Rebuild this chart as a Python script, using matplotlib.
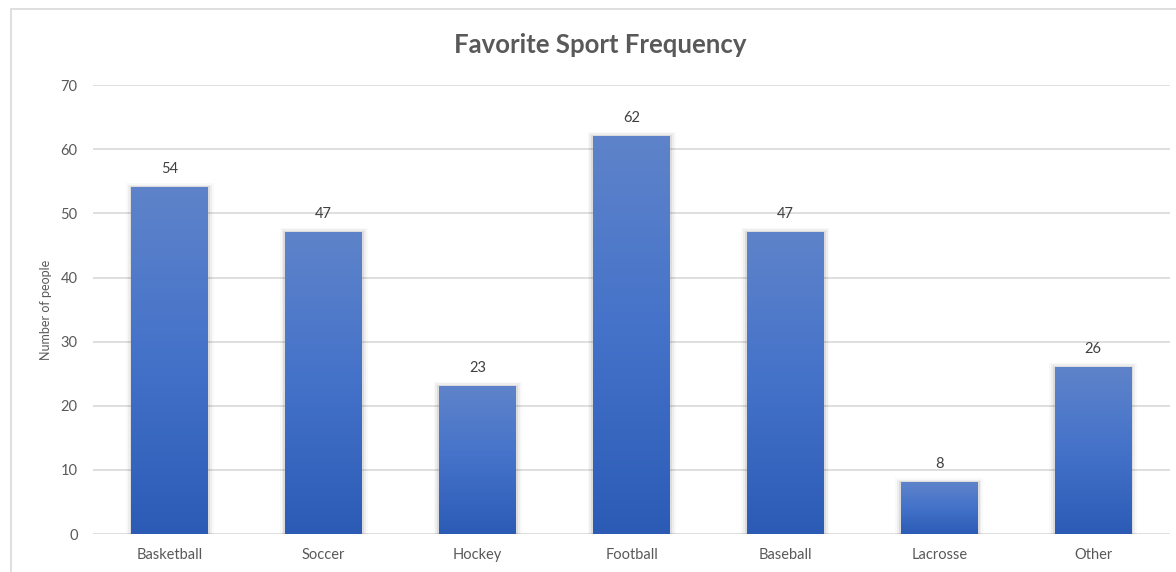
import numpy as np
import matplotlib.pyplot as plt
from matplotlib.colors import LinearSegmentedColormap
from matplotlib.patches import Rectangle

sports = ['Basketball', 'Soccer', 'Hockey', 'Football', 'Baseball', 'Lacrosse', 'Other']
counts = [54, 47, 23, 62, 47, 8, 26]
yticks = [0, 10, 20, 30, 40, 50, 60, 70]

plt.rcParams['font.family'] = ['Lato', 'DejaVu Sans']

fig = plt.figure(figsize=(11.76, 5.72), dpi=100)
ax = fig.add_axes([0.079, 0.0664, 0.916, 0.7846])

# outer chart frame (cut off at right and bottom like the screenshot)
fig.patches.append(Rectangle((11 / 1176, -0.2), 1.2, 1.2 - 9 / 572,
                             transform=fig.transFigure, fill=False,
                             edgecolor='#D9D9D9', lw=1.2))

grad = LinearSegmentedColormap.from_list('bar', ['#2C5BB6', '#4472C9', '#5E83CA'])
x = np.arange(len(sports))
width = 0.5
ramp = np.linspace(0, 1, 256).reshape(-1, 1)

for xi, v in zip(x, counts):
    # soft shadow
    for k, a in enumerate([0.07, 0.045, 0.025]):
        d = 0.012 * (k + 1)
        ax.add_patch(Rectangle((xi - width / 2 - d, 0), width + 2 * d, v + 0.25 * (k + 1),
                               facecolor='black', alpha=a, lw=0, zorder=2))
    ax.imshow(ramp, cmap=grad, aspect='auto', origin='lower',
              extent=[xi - width / 2, xi + width / 2, 0, v], zorder=3)
    ax.annotate(str(v), (xi, v), xytext=(0, 8.5), textcoords='offset points',
                ha='center', va='bottom', fontsize=10.5, color='#404040')

ax.set_xlim(-0.5, len(sports) - 0.5)
ax.set_ylim(0, 70)
ax.set_xticks(x)
ax.set_xticklabels(sports, fontsize=10.5, color='#595959')
ax.set_yticks(yticks)
ax.set_yticklabels([str(t) for t in yticks], fontsize=10.5, color='#595959')
ax.tick_params(length=0, pad=10)
ax.tick_params(axis='y', pad=11)
ax.grid(axis='y', color='#D9D9D9', lw=1.2, zorder=0)
ax.set_axisbelow(True)
for s in ax.spines.values():
    s.set_visible(False)

ax.set_ylabel('Number of people', fontsize=9, color='#595959', labelpad=6)
fig.text(0.51, 0.921, 'Favorite Sport Frequency', ha='center', va='center',
         fontsize=18.5, fontweight='bold', color='#595959')

fig.savefig('out.png', dpi=100)
